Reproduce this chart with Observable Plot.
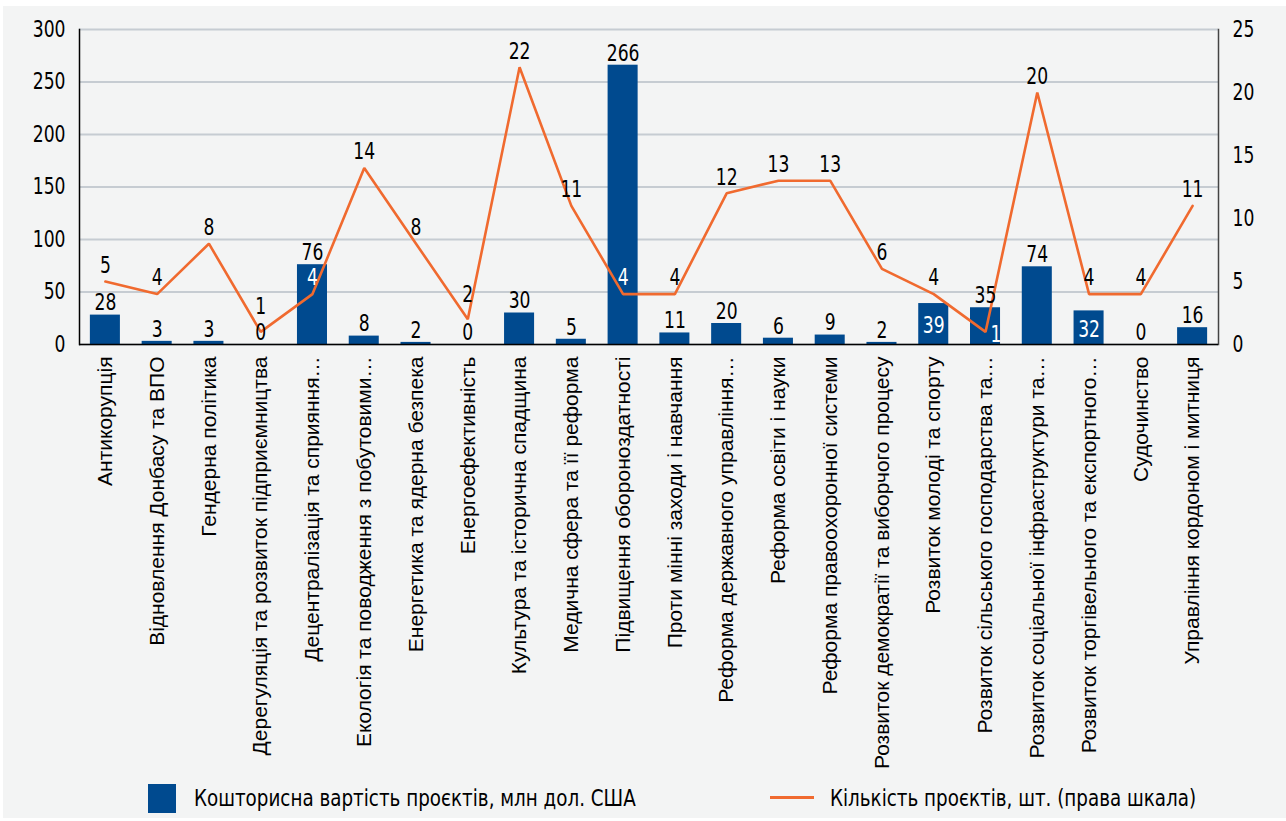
<!DOCTYPE html>
<html>
<head>
<meta charset="utf-8">
<script src="https://cdn.jsdelivr.net/npm/d3@7"></script>
<script src="https://cdn.jsdelivr.net/npm/@observablehq/plot@0.6"></script>
<style>
  body { margin: 0; background: #ffffff; width: 1286px; height: 821px; overflow: hidden; position: relative; }
  #frame { position: absolute; left: 3px; top: 6px; width: 1283px; height: 812px; background: #f3f4f4; }
  #chart { position: absolute; left: 0; top: 0; }
  .lg { position: absolute; font-family: 'Liberation Sans Narrow', 'DejaVu Sans Condensed', 'Arial Narrow', sans-serif; font-size: 23px; color: #000; line-height: 1; white-space: nowrap; transform: scaleX(0.885); transform-origin: 0 50%; }
  .sw-bar { position: absolute; left: 148px; top: 784px; width: 28px; height: 29px; background: #004a8f; }
  .sw-line { position: absolute; left: 770px; top: 796px; width: 44px; height: 3px; background: #f06a2f; }
</style>
</head>
<body>
<div id="frame"></div>
<div id="chart"></div>
<div class="sw-bar"></div>
<div class="lg" style="left:194px; top:787px;">Кошторисна вартість проєктів, млн дол. США</div>
<div class="sw-line"></div>
<div class="lg" style="left:830px; top:787px;">Кількість проєктів, шт. (права шкала)</div>
<script>
const categories = [
  "Антикорупція",
  "Відновлення Донбасу та ВПО",
  "Гендерна політика",
  "Дерегуляція та розвиток підприємництва",
  "Децентралізація та сприяння…",
  "Екологія та поводження з побутовими…",
  "Енергетика та ядерна безпека",
  "Енергоефективність",
  "Культура та історична спадщина",
  "Медична сфера та її реформа",
  "Підвищення обороноздатності",
  "Проти мінні заходи і навчання",
  "Реформа державного управління…",
  "Реформа освіти і науки",
  "Реформа правоохоронної системи",
  "Розвиток демократії та виборчого процесу",
  "Розвиток молоді та спорту",
  "Розвиток сільського господарства та…",
  "Розвиток соціальної інфраструктури та…",
  "Розвиток торгівельного та експортного…",
  "Судочинство",
  "Управління кордоном і митниця"
];
const costs = [28, 3, 3, 0, 76, 8, 2, 0, 30, 5, 266, 11, 20, 6, 9, 2, 39, 35, 74, 32, 0, 16];
const counts = [5, 4, 8, 1, 4, 14, 8, 2, 22, 11, 4, 4, 12, 13, 13, 6, 4, 1, 20, 4, 4, 11];
const leftTicks = [0, 50, 100, 150, 200, 250, 300];
const rightTicks = [0, 5, 10, 15, 20, 25];

// label styling choices (which labels sit inside bars / are drawn in white / are lifted)
const barLabelsInside = new Set(["Розвиток молоді та спорту", "Розвиток торгівельного та експортного…"]);
const lineLabelsWhite = new Set(["Децентралізація та сприяння…", "Підвищення обороноздатності", "Розвиток сільського господарства та…"]);
const lineLabelsRight = new Set(["Розвиток сільського господарства та…"]);
const lineLabelsLifted = new Set(["Дерегуляція та розвиток підприємництва", "Енергоефективність"]);

const ratio = leftTicks[leftTicks.length - 1] / rightTicks[rightTicks.length - 1];
const data = categories.map((c, i) => ({cat: c, cost: costs[i], count: counts[i], countScaled: counts[i] * ratio}));

const numFont = "'Liberation Sans Narrow', 'DejaVu Sans Condensed', 'Arial Narrow', sans-serif";
const catFont = "'Liberation Sans', Arial, sans-serif";
const blue = "#004a8f";
const orange = "#f06a2f";
const numSize = 23;

const W = 1286, H = 780;
const plot = Plot.plot({
  width: W,
  height: H,
  marginLeft: 79,
  marginRight: 68,
  marginTop: 29,
  marginBottom: H - 344,
  style: {background: "transparent", overflow: "visible"},
  x: {domain: categories, paddingInner: 0.42, paddingOuter: 0.21, round: false, label: null},
  y: {domain: [0, 300], label: null},
  marks: [
    Plot.gridY(leftTicks, {stroke: "#c6ccd2", strokeWidth: 2, strokeOpacity: 1}),
    Plot.barY(data, {x: "cat", y: "cost", fill: blue}),
    Plot.line(data, {x: "cat", y: "countScaled", stroke: orange, strokeWidth: 2.6, strokeLinejoin: "miter"}),
    Plot.frame({anchor: "left", stroke: "#000", strokeWidth: 1.5}),
    Plot.frame({anchor: "right", stroke: "#444", strokeWidth: 1.5}),
    Plot.ruleY([0], {stroke: "#000", strokeWidth: 1.5}),
    // bar labels
    Plot.text(data.filter(d => !barLabelsInside.has(d.cat)), {x: "cat", y: "cost", text: d => String(d.cost), dy: -12, fontSize: numSize, fontFamily: numFont, fill: "#000"}),
    Plot.text(data.filter(d => barLabelsInside.has(d.cat)), {x: "cat", y: d => d.cost / 2, text: d => String(d.cost), dy: 2, fontSize: numSize, fontFamily: numFont, fill: "#fff"}),
    // line labels
    Plot.text(data.filter(d => !lineLabelsRight.has(d.cat) && !lineLabelsLifted.has(d.cat)), {x: "cat", y: "countScaled", text: d => String(d.count), dy: -16, fontSize: numSize, fontFamily: numFont, fill: d => lineLabelsWhite.has(d.cat) ? "#fff" : "#000"}),
    Plot.text(data.filter(d => lineLabelsLifted.has(d.cat)), {x: "cat", y: "countScaled", text: d => String(d.count), dy: -25, fontSize: numSize, fontFamily: numFont, fill: "#000"}),
    Plot.text(data.filter(d => lineLabelsRight.has(d.cat)), {x: "cat", y: "countScaled", text: d => String(d.count), dx: 5, dy: 3, textAnchor: "start", fontSize: numSize, fontFamily: numFont, fill: d => lineLabelsWhite.has(d.cat) ? "#fff" : "#000"}),
    // axes
    Plot.axisY(leftTicks, {anchor: "left", tickSize: 0, tickPadding: 14, fontSize: numSize, fontFamily: numFont, fill: "#000", label: null}),
    Plot.axisY(rightTicks.map(v => v * ratio), {anchor: "right", tickSize: 0, tickPadding: 14, tickFormat: d => String(d / ratio), fontSize: numSize, fontFamily: numFont, fill: "#000", label: null}),
    Plot.axisX({tickRotate: -90, tickSize: 0, tickPadding: 12, fontSize: 21, fontFamily: catFont, fill: "#000", label: null})
  ]
});

// condense the numeric texts horizontally (narrow figure style)
d3.select(plot).selectAll("g").filter(function() {
  const f = this.getAttribute("font-family");
  return f && f.includes("Condensed");
}).selectAll("text").each(function() {
  const t = this.getAttribute("transform") || "";
  this.setAttribute("transform", `${t} scale(0.83,1)`);
});

document.getElementById("chart").appendChild(plot);
</script>
</body>
</html>
